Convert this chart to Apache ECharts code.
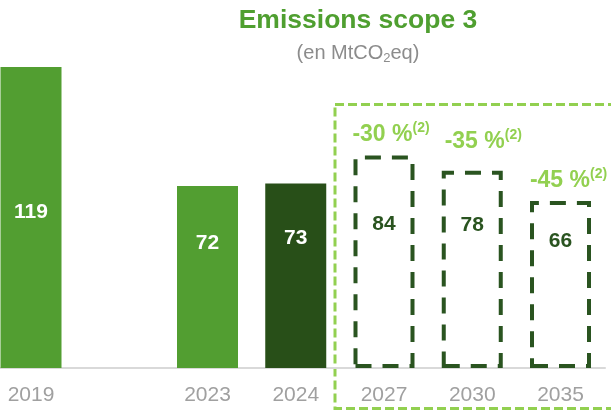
<!DOCTYPE html>
<html>
<head>
<meta charset="utf-8">
<script src="https://cdn.jsdelivr.net/npm/echarts@6/dist/echarts.min.js"></script>
<style>
html,body{margin:0;padding:0;background:#fff;}
#c{width:611px;height:411px;}
</style>
</head>
<body>
<div id="c"></div>
<script>
const categories = ['2019', '', '2023', '2024', '2027', '2030', '2035'];
const emissions = [119, null, 72, 73, 84, 78, 66];
const isTarget = [false, false, false, false, true, true, true];
const reductions = [null, null, null, null, '-30 %', '-35 %', '-45 %'];
const footnote = '(2)';

const LIGHT = '#529e31';
const DARK = '#284f18';
const DASH = '#2a5420';
const LIME = '#92d050';

// label placement styles (px below bar top)
const valueLabelY = [145, 0, 57, 55, 69, 54, 40];
const reductionStyle = [null, null, null, null, {dx: 7, dy: -21}, {dx: 11, dy: -29}, {dx: 8, dy: -20}];

const chart = echarts.init(document.getElementById('c'), null, {renderer: 'canvas'});

const valueData = emissions.map((v, i) => {
  if (v === null) return null;
  const target = isTarget[i];
  return {
    value: v,
    itemStyle: target ? {
      color: 'rgba(0,0,0,0)',
      borderColor: DASH,
      borderWidth: 4,
      borderType: [16, 11]
    } : {
      color: categories[i] === '2024' ? DARK : LIGHT
    },
    label: {
      position: ['50%', valueLabelY[i]],
      align: 'center',
      verticalAlign: 'middle',
      color: target ? DASH : '#ffffff'
    }
  };
});

const reductionData = emissions.map((v, i) => {
  if (reductions[i] === null) return null;
  const s = reductionStyle[i];
  return {
    value: v,
    label: {
      show: true,
      position: ['50%', s.dy],
      offset: [s.dx, 0],
      align: 'center',
      verticalAlign: 'middle',
      formatter: '{a|' + reductions[i] + '}{b|' + footnote + '}'
    }
  };
});

chart.setOption({
  animation: false,
  backgroundColor: '#ffffff',
  title: [{
    text: 'Emissions scope 3',
    left: 353,
    top: 2,
    textAlign: 'center',
    textStyle: {fontFamily: 'Liberation Sans', fontWeight: 'bold', fontSize: 26.5, color: '#4f9f30'}
  }, {
    text: '(en MtCO{s|2}eq)',
    left: 353,
    top: 36,
    textAlign: 'center',
    textStyle: {
      fontFamily: 'Liberation Sans', fontWeight: 'normal', fontSize: 20, color: '#8c8c8c', lineHeight: 24,
      rich: {s: {fontFamily: 'Liberation Sans', fontSize: 13, color: '#8c8c8c', lineHeight: 10, verticalAlign: 'bottom'}}
    }
  }],
  grid: [
    {left: 31, right: 50.5, top: 14, bottom: 43, containLabel: false},
    {left: 0, right: 6, top: 14, bottom: 43, containLabel: false}
  ],
  xAxis: [{
    type: 'category',
    gridIndex: 0,
    boundaryGap: false,
    data: categories,
    axisLine: {show: false},
    axisTick: {show: false},
    axisLabel: {interval: 0, margin: 17, color: '#a0a0a0', fontSize: 21, fontFamily: 'Liberation Sans'},
    z: 1
  }, {
    type: 'category',
    gridIndex: 1,
    data: categories,
    axisLine: {show: true, lineStyle: {color: '#d9d9d9', width: 2}},
    axisTick: {show: false},
    axisLabel: {show: false},
    z: 0
  }],
  yAxis: [{
    type: 'value',
    gridIndex: 0,
    min: 0,
    max: 140,
    show: false,
    splitLine: {show: false}
  }, {
    type: 'value',
    gridIndex: 1,
    min: 0,
    max: 140,
    show: false,
    splitLine: {show: false}
  }],
  graphic: [{
    type: 'rect',
    silent: true,
    shape: {x: 335, y: 104.5, width: 300, height: 304},
    style: {fill: 'none', stroke: LIME, lineWidth: 3, lineDash: [9, 4]},
    z: 0
  }],
  series: [{
    name: 'Emissions',
    type: 'bar',
    xAxisIndex: 0,
    yAxisIndex: 0,
    clip: false,
    barWidth: 61,
    barGap: '-100%',
    data: valueData,
    label: {
      show: true,
      fontFamily: 'Liberation Sans',
      fontWeight: 'bold',
      fontSize: 21,
      formatter: '{c}'
    },
    z: 2
  }, {
    name: 'Objectifs',
    type: 'bar',
    xAxisIndex: 0,
    yAxisIndex: 0,
    clip: false,
    barWidth: 61,
    barGap: '-100%',
    data: reductionData,
    itemStyle: {color: 'rgba(0,0,0,0)'},
    label: {
      show: true,
      rich: {
        a: {fontFamily: 'Liberation Sans', fontWeight: 'bold', fontSize: 23, color: LIME, lineHeight: 27},
        b: {fontFamily: 'Liberation Sans', fontWeight: 'bold', fontSize: 14, color: LIME, lineHeight: 14, verticalAlign: 'top'}
      }
    },
    z: 3
  }]
});
</script>
</body>
</html>
